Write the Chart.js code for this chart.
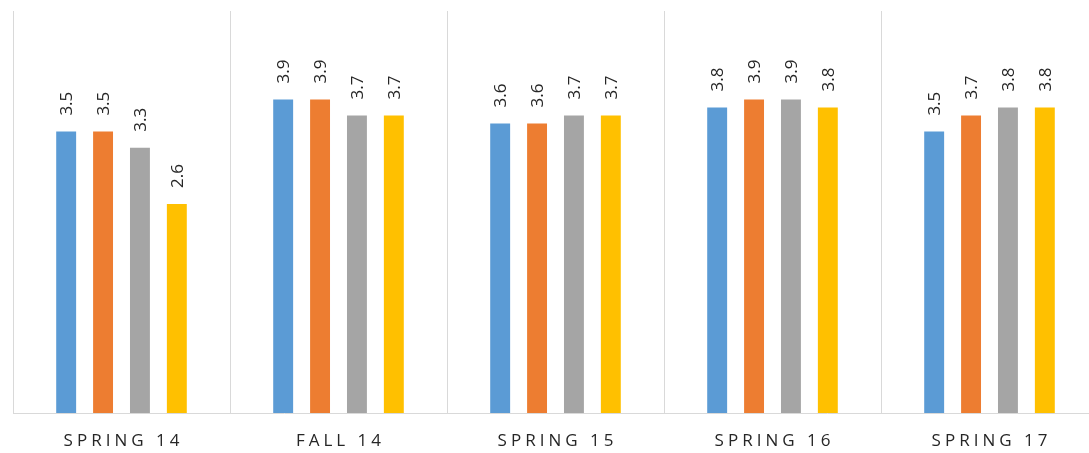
<!DOCTYPE html>
<html>
<head>
<meta charset="utf-8">
<script src="https://cdn.jsdelivr.net/npm/chart.js@4"></script>
<style>
    html, body { margin: 0; padding: 0; background: #ffffff; overflow: hidden; }
    #clip { position: relative; width: 1089px; height: 453px; overflow: hidden; }
    #wrap { position: absolute; left: 0; top: 0; width: 1110px; height: 453px; }
</style>
</head>
<body>
<div id="clip"><div id="wrap"><canvas id="termChart"></canvas></div></div>
<script>
const categories = ['SPRING 14', 'FALL 14', 'SPRING 15', 'SPRING 16', 'SPRING 17'];

const series1 = [3.5, 3.9, 3.6, 3.8, 3.5];
const series2 = [3.5, 3.9, 3.6, 3.9, 3.7];
const series3 = [3.3, 3.7, 3.7, 3.9, 3.8];
const series4 = [2.6, 3.7, 3.7, 3.8, 3.8];

const colors = ['#5B9BD5', '#ED7D31', '#A5A5A5', '#FFC000'];
const textColor = '#262626';
const fontFamily = '"Open Sans", "Noto Sans", sans-serif';

// value labels (rotated) and spaced-out category labels
const labelPlugin = {
    id: 'termLabels',
    afterDatasetsDraw(chart) {
        const ctx = chart.ctx;
        ctx.save();
        ctx.fillStyle = textColor;
        ctx.font = '17px ' + fontFamily;
        ctx.textAlign = 'left';
        ctx.textBaseline = 'middle';
        chart.data.datasets.forEach((ds, i) => {
            chart.getDatasetMeta(i).data.forEach((bar, j) => {
                ctx.save();
                ctx.translate(bar.x + 1, bar.y - 16);
                ctx.rotate(-Math.PI / 2);
                ctx.fillText(ds.data[j].toFixed(1), 0, 0);
                ctx.restore();
            });
        });

        const xScale = chart.scales.x;
        ctx.font = '17px ' + fontFamily;
        ctx.letterSpacing = '4px';
        ctx.textAlign = 'center';
        categories.forEach((c, i) => {
            ctx.fillText(c, xScale.getPixelForTick(i) + 2, 441);
        });
        ctx.restore();
    }
};

new Chart(document.getElementById('termChart').getContext('2d'), {
    type: 'bar',
    data: {
        labels: categories,
        datasets: [
            { label: 'Series 1', data: series1, backgroundColor: colors[0] },
            { label: 'Series 2', data: series2, backgroundColor: colors[1] },
            { label: 'Series 3', data: series3, backgroundColor: colors[2] },
            { label: 'Series 4', data: series4, backgroundColor: colors[3] }
        ]
    },
    options: {
        responsive: true,
        maintainAspectRatio: false,
        animation: false,
        layout: {
            padding: { left: 13, right: 12, top: 11, bottom: 0 }
        },
        datasets: {
            bar: {
                categoryPercentage: 0.68,
                barPercentage: 0.54,
                borderWidth: 0
            }
        },
        scales: {
            x: {
                grid: {
                    display: true,
                    offset: true,
                    // no line on the right edge
                    color: (c) => c.index >= categories.length ? 'rgba(0,0,0,0)' : '#D9D9D9',
                    lineWidth: 1,
                    drawTicks: false
                },
                border: { display: true, color: '#D9D9D9', width: 1 },
                ticks: { display: false },
                afterFit: function(scale) {
                    scale.height = 40;
                }
            },
            y: {
                display: false,
                min: 0,
                max: 5
            }
        },
        plugins: {
            legend: { display: false },
            tooltip: { enabled: false }
        }
    },
    plugins: [labelPlugin]
});
</script>
</body>
</html>
